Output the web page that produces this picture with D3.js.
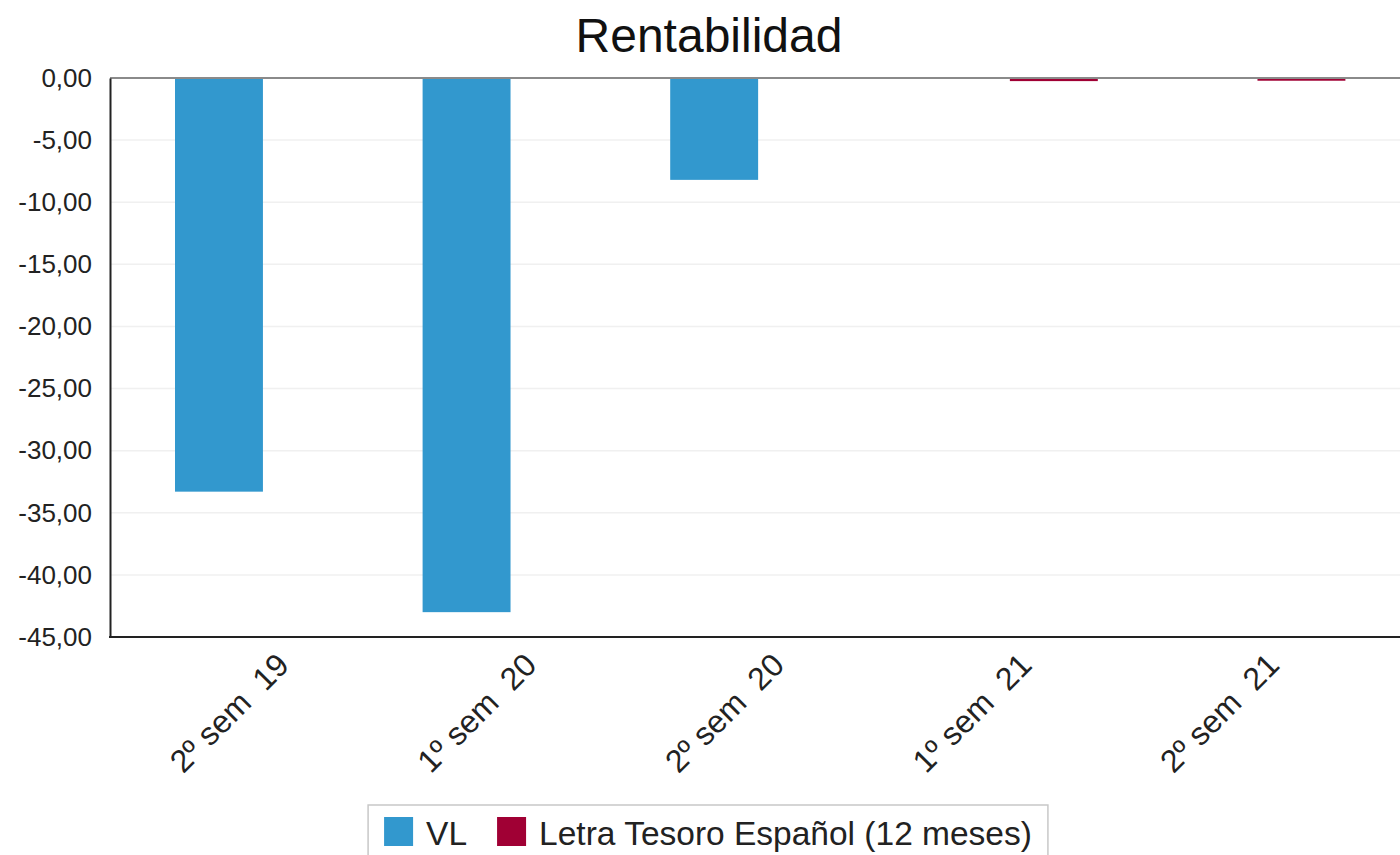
<!DOCTYPE html>
<html>
<head>
<meta charset="utf-8">
<script src="https://cdn.jsdelivr.net/npm/d3@7"></script>
<style>
  html, body { margin: 0; padding: 0; background: #fff; }
  svg { display: block; font-family: "Liberation Sans", Arial, sans-serif; }
</style>
</head>
<body>
<svg id="chart" width="1400" height="855"></svg>
<script>
// ---- data ----
const title = "Rentabilidad";
const categories = ["2º sem  19", "1º sem  20", "2º sem  20", "1º sem  21", "2º sem  21"];
const seriesNames = ["VL", "Letra Tesoro Español (12 meses)"];
const seriesColors = ["#3298CE", "#A00034"];
const vlValues = [-33.3, -43.0, -8.2, null, null];
const letraValues = [null, null, null, -0.25, -0.22];
const yTicks = [0, -5, -10, -15, -20, -25, -30, -35, -40, -45];

// ---- layout ----
const svg = d3.select("#chart");
const plot = { left: 110, top: 78, bottom: 637, right: 1410 };

const locale = d3.formatLocale({ decimal: ",", thousands: ".", grouping: [3], currency: ["", "€"], minus: "-" });
const fmt = locale.format(".2f");

const y = d3.scaleLinear().domain([0, -45]).range([plot.top, plot.bottom]);
const x0 = d3.scaleBand().domain(categories).range([141, 1379]).paddingInner(0).paddingOuter(0);
const x1 = d3.scaleBand().domain(seriesNames).range([34, 214]).paddingInner(0.045);

// gridlines
svg.append("g").selectAll("line").data(yTicks.filter(d => d !== 0 && d !== -45)).join("line")
  .attr("x1", plot.left).attr("x2", plot.right)
  .attr("y1", d => y(d)).attr("y2", d => y(d))
  .attr("stroke", "#f0f0f0").attr("stroke-width", 1.5);

// bars
const rows = categories.map((c, i) => ({ c, vals: [vlValues[i], letraValues[i]] }));
const groups = svg.append("g").selectAll("g").data(rows).join("g")
  .attr("transform", d => `translate(${x0(d.c)},0)`);
groups.selectAll("rect")
  .data(d => d.vals.map((v, k) => ({ v, k })).filter(e => e.v !== null))
  .join("rect")
  .attr("x", e => x1(seriesNames[e.k]))
  .attr("width", x1.bandwidth())
  .attr("y", e => Math.min(y(0), y(e.v)))
  .attr("height", e => Math.abs(y(e.v) - y(0)))
  .attr("fill", e => seriesColors[e.k]);

// zero line (top)
svg.append("line")
  .attr("x1", plot.left).attr("x2", plot.right)
  .attr("y1", y(0)).attr("y2", y(0))
  .attr("stroke", "#8a8a8a").attr("stroke-width", 2);

// y axis
const yAxis = d3.axisLeft(y).tickValues(yTicks).tickFormat(fmt).tickSize(0).tickPadding(18);
const yg = svg.append("g").attr("transform", `translate(${plot.left},0)`).call(yAxis);
yg.select(".domain").attr("stroke", "#222").attr("stroke-width", 2);
yg.selectAll("text").attr("font-size", 26).attr("fill", "#222")
  .attr("font-family", "Liberation Sans, Arial, sans-serif");

// x axis
const xAxis = d3.axisBottom(x0).tickSize(0).tickPadding(0);
const xg = svg.append("g").attr("transform", `translate(0,${plot.bottom})`).call(xAxis);
xg.select(".domain").remove();
svg.append("line").attr("x1", plot.left - 1).attr("x2", plot.right)
  .attr("y1", plot.bottom).attr("y2", plot.bottom)
  .attr("stroke", "#222").attr("stroke-width", 2);
xg.selectAll(".tick text")
  .attr("font-size", 32).attr("fill", "#222")
  .attr("font-family", "Liberation Sans, Arial, sans-serif")
  .style("white-space", "pre")
  .attr("text-anchor", "end")
  .attr("dy", 0)
  .attr("transform", "translate(26,30) rotate(-45)");

// title
svg.append("text").attr("x", 709).attr("y", 52)
  .attr("text-anchor", "middle").attr("font-size", 48).attr("fill", "#111")
  .text(title);

// legend
const lg = svg.append("g");
const sq = 29, gapText = 13, gapItem = 30, pad = 16;
let cx = 0;
seriesNames.forEach((name, i) => {
  const g = lg.append("g");
  g.append("rect").attr("width", sq).attr("height", sq).attr("fill", seriesColors[i]);
  const t = g.append("text").attr("x", sq + gapText).attr("y", sq - 1)
    .attr("font-size", 33.5).attr("fill", "#222").text(name);
  const w = sq + gapText + t.node().getComputedTextLength();
  g.attr("transform", `translate(${cx},0)`);
  cx += w + gapItem;
});
const legendW = cx - gapItem + pad * 2;
const legendX = 708 - legendW / 2;
svg.insert("rect", () => lg.node())
  .attr("x", legendX).attr("y", 805).attr("width", legendW).attr("height", 70)
  .attr("fill", "#fff").attr("stroke", "#c8c8c8").attr("stroke-width", 1.5);
lg.attr("transform", `translate(${legendX + pad},817)`);
</script>
</body>
</html>
